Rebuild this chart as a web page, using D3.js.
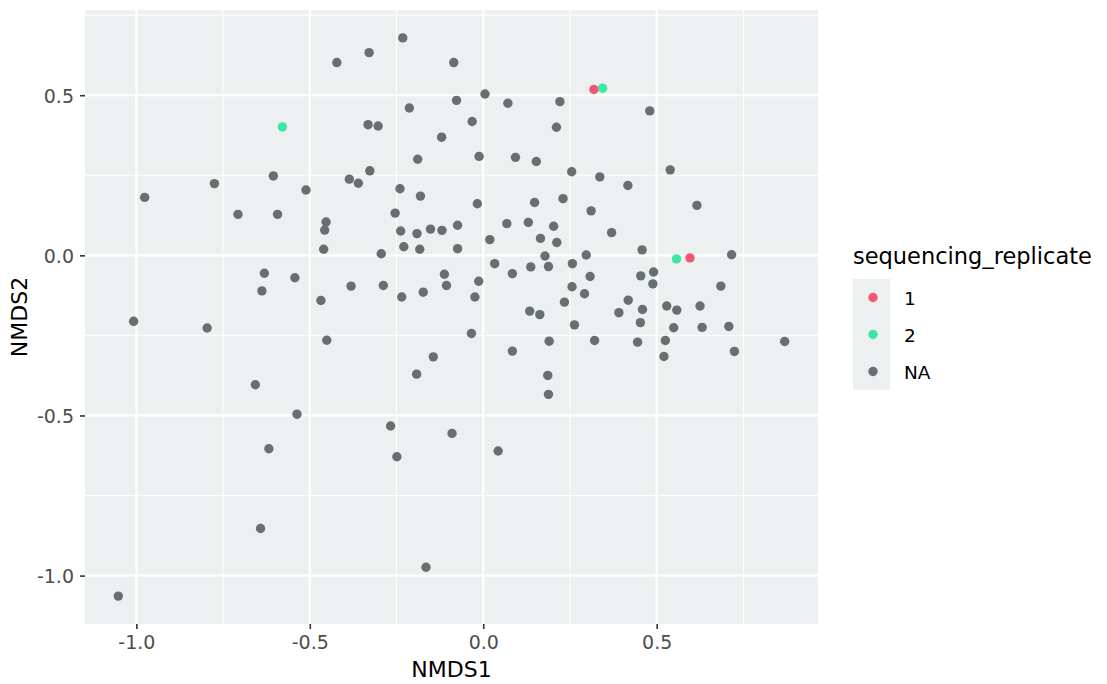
<!DOCTYPE html>
<html>
<head>
<meta charset="utf-8">
<script src="https://cdn.jsdelivr.net/npm/d3@7"></script>
<style>
  html, body { margin: 0; padding: 0; background: #ffffff; }
  svg { display: block; }
  text { font-family: "DejaVu Sans", sans-serif; }
</style>
</head>
<body>
<svg id="chart" width="1107" height="684"></svg>
<script>
// ---------------- data ----------------
const nmds1 = [
  -0.232,-0.329,-0.422,-0.085,-0.077,-0.213,-0.332,-0.303,-0.120,-0.189,
  -0.327,-0.605,-0.386,-0.360,-0.775,-0.511,-0.240,-0.181,-0.976,-0.707,
  -0.593,-0.254,-0.453,-0.457,-0.238,-0.191,-0.152,-0.119,-0.074,-0.460,
  -0.294,-0.229,-0.183,-0.074,-0.631,-0.638,-0.543,-0.468,-0.381,-0.288,
  -0.235,-0.173,-0.112,-0.106,-1.008, 0.005, 0.071, 0.221, 0.480,-0.032,
   0.211,-0.012, 0.093, 0.153, 0.255, 0.336, 0.417, 0.539,-0.017, 0.148,
   0.230, 0.311, 0.616, 0.068, 0.130, 0.203, 0.019, 0.165, 0.212, 0.370,
   0.178, 0.297, 0.458, 0.716, 0.033, 0.084, 0.137, 0.188, 0.257, 0.308,
   0.454, 0.491, 0.489, 0.685,-0.013,-0.024, 0.256, 0.292, 0.234, 0.418,
   0.459, 0.529, 0.558, 0.625, 0.134, 0.163, 0.391,-0.034, 0.263, 0.453,
   0.549, 0.631, 0.708, 0.084, 0.190, 0.321, 0.445, 0.525, 0.521, 0.724,
   0.869, 0.186, 0.188,-0.090, 0.043,-0.796,-0.451,-0.144,-0.192,-0.657,
  -0.537,-0.267,-0.618,-0.249,-0.642,-0.165,-1.052,
   0.319, 0.596,
  -0.579, 0.344, 0.557
];
const nmds2 = [
   0.679, 0.633, 0.602, 0.602, 0.484, 0.460, 0.408, 0.404, 0.369, 0.300,
   0.264, 0.248, 0.238, 0.225, 0.224, 0.204, 0.208, 0.185, 0.181, 0.128,
   0.128, 0.132, 0.104, 0.079, 0.076, 0.068, 0.082, 0.078, 0.094, 0.019,
   0.005, 0.027, 0.019, 0.021,-0.056,-0.111,-0.070,-0.141,-0.096,-0.094,
  -0.130,-0.115,-0.059,-0.094,-0.206, 0.504, 0.475, 0.480, 0.451, 0.418,
   0.400, 0.309, 0.306, 0.293, 0.261, 0.245, 0.218, 0.267, 0.161, 0.165,
   0.177, 0.139, 0.156, 0.099, 0.103, 0.091, 0.049, 0.053, 0.040, 0.071,
  -0.002, 0.001, 0.017, 0.002,-0.026,-0.057,-0.036,-0.035,-0.026,-0.066,
  -0.064,-0.052,-0.089,-0.096,-0.081,-0.130,-0.098,-0.120,-0.146,-0.140,
  -0.169,-0.158,-0.171,-0.158,-0.174,-0.185,-0.179,-0.244,-0.217,-0.210,
  -0.226,-0.225,-0.222,-0.299,-0.268,-0.266,-0.271,-0.266,-0.316,-0.300,
  -0.269,-0.375,-0.434,-0.556,-0.611,-0.227,-0.265,-0.317,-0.371,-0.404,
  -0.496,-0.533,-0.604,-0.629,-0.853,-0.974,-1.064,
   0.518,-0.008,
   0.401, 0.522,-0.011
];
const NA_COUNT = 127;
const replicate = [].concat(
  new Array(NA_COUNT).fill("NA"),
  ["1", "1"],
  ["2", "2", "2"]
);
const legendLevels = ["1", "2", "NA"];
const legendColors = ["#F2576F", "#3FE6A2", "#676F6F"];
const xTicks = [-1.0, -0.5, 0.0, 0.5];
const yTicks = [-1.0, -0.5, 0.0, 0.5];
const xMinor = [-0.75, -0.25, 0.25, 0.75];
const yMinor = [-0.75, -0.25, 0.25, 0.75];
const xTitle = "NMDS1";
const yTitle = "NMDS2";
const legendTitle = "sequencing_replicate";

// ---------------- layout ----------------
const svg = d3.select("#chart");
const panel = { left: 85, right: 818, top: 10, bottom: 624 };

const points = nmds1.map((x, i) => ({ x, y: nmds2[i], g: replicate[i] }));

function expanded(ext) {
  const pad = (ext[1] - ext[0]) * 0.05;
  return [ext[0] - pad, ext[1] + pad];
}
const x = d3.scaleLinear().domain(expanded(d3.extent(nmds1))).range([panel.left, panel.right]);
const y = d3.scaleLinear().domain(expanded(d3.extent(nmds2))).range([panel.bottom, panel.top]);
const color = d3.scaleOrdinal().domain(legendLevels).range(legendColors);

// panel background
svg.append("rect")
  .attr("x", panel.left).attr("y", panel.top)
  .attr("width", panel.right - panel.left).attr("height", panel.bottom - panel.top)
  .attr("fill", "#EDF0F0");

const grid = svg.append("g");
// minor grid
grid.selectAll(".xminor").data(xMinor.filter(v => v >= x.domain()[0] && v <= x.domain()[1]))
  .join("line")
  .attr("x1", d => x(d)).attr("x2", d => x(d))
  .attr("y1", panel.top).attr("y2", panel.bottom)
  .attr("stroke", "#ffffff").attr("stroke-width", 1);
grid.selectAll(".yminor").data(yMinor.filter(v => v >= y.domain()[0] && v <= y.domain()[1]))
  .join("line")
  .attr("y1", d => y(d)).attr("y2", d => y(d))
  .attr("x1", panel.left).attr("x2", panel.right)
  .attr("stroke", "#ffffff").attr("stroke-width", 1);
// major grid
grid.selectAll(".xmajor").data(xTicks)
  .join("line")
  .attr("x1", d => x(d)).attr("x2", d => x(d))
  .attr("y1", panel.top).attr("y2", panel.bottom)
  .attr("stroke", "#ffffff").attr("stroke-width", 2.2);
grid.selectAll(".ymajor").data(yTicks)
  .join("line")
  .attr("y1", d => y(d)).attr("y2", d => y(d))
  .attr("x1", panel.left).attr("x2", panel.right)
  .attr("stroke", "#ffffff").attr("stroke-width", 2.2);

// points (NA first, then coloured)
const order = ["NA", "1", "2"];
const sorted = points.slice().sort((a, b) => order.indexOf(a.g) - order.indexOf(b.g));
svg.append("g").selectAll("circle").data(sorted)
  .join("circle")
  .attr("cx", d => x(d.x)).attr("cy", d => y(d.y))
  .attr("r", 4.7)
  .attr("fill", d => color(d.g));

// axes
const fmt = d => d.toFixed(1);
const xAxis = d3.axisBottom(x).tickValues(xTicks).tickFormat(fmt).tickSize(5).tickPadding(4);
const yAxis = d3.axisLeft(y).tickValues(yTicks).tickFormat(fmt).tickSize(5).tickPadding(4);

const gx = svg.append("g").attr("transform", `translate(0,${panel.bottom})`).call(xAxis);
const gy = svg.append("g").attr("transform", `translate(${panel.left},0)`).call(yAxis);
[gx, gy].forEach(g => {
  g.select(".domain").remove();
  g.selectAll(".tick line").attr("stroke", "#333333").attr("stroke-width", 1.6);
  g.selectAll(".tick text")
    .attr("fill", "#4D4D4D")
    .style("font-family", "'DejaVu Sans', sans-serif")
    .style("font-size", "19px");
});
gx.selectAll(".tick text").attr("dy", null).attr("y", 25);
gy.selectAll(".tick text").attr("dy", "0.36em").attr("x", -11);

// axis titles
svg.append("text")
  .attr("x", (panel.left + panel.right) / 2).attr("y", 677)
  .attr("text-anchor", "middle")
  .attr("fill", "#000")
  .style("font-size", "22px")
  .text(xTitle);
svg.append("text")
  .attr("transform", `translate(27,${(panel.top + panel.bottom) / 2}) rotate(-90)`)
  .attr("text-anchor", "middle")
  .attr("fill", "#000")
  .style("font-size", "22px")
  .text(yTitle);

// legend
const lg = svg.append("g");
lg.append("text")
  .attr("x", 853).attr("y", 264)
  .attr("fill", "#000")
  .style("font-size", "22.5px")
  .text(legendTitle);
const keyH = 37;
legendLevels.forEach((lev, i) => {
  const ky = 279 + i * keyH;
  lg.append("rect")
    .attr("x", 853).attr("y", ky).attr("width", 37).attr("height", keyH)
    .attr("fill", "#EDF0F0");
  lg.append("circle")
    .attr("cx", 873).attr("cy", ky + keyH / 2)
    .attr("r", 4.7).attr("fill", color(lev));
  lg.append("text")
    .attr("x", 904).attr("y", ky + keyH / 2 + 7)
    .attr("fill", "#000")
    .style("font-size", "18.5px")
    .text(lev);
});
</script>
</body>
</html>
